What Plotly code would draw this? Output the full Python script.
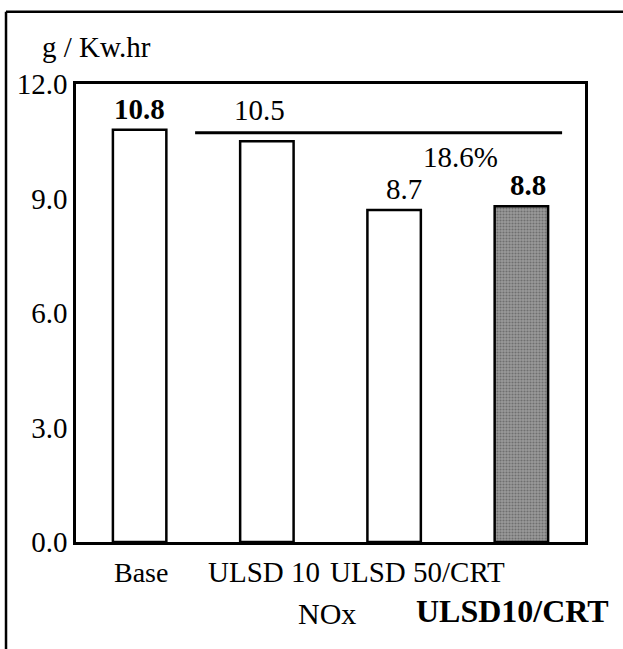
import plotly.graph_objects as go

# Data
categories = ["Base", "ULSD 10", "ULSD 50/CRT", "ULSD10/CRT"]
values = [10.8, 10.5, 8.7, 8.8]
bold_labels = [True, False, False, True]
y_ticks = [0, 3, 6, 9, 12]
y_tick_text = ["0.0", "3.0", "6.0", "9.0", "12.0"]
reduction_text = "18.6%"
y_title = "g / Kw.hr"
x_title = "NOx"

FONT = "Liberation Serif"

fill_colors = ["white", "white", "white", "#9a9a9a"]
pattern_shapes = ["", "", "", "."]

fig = go.Figure()
fig.add_trace(go.Bar(
    x=categories,
    y=values,
    width=0.42,
    marker=dict(
        color=fill_colors,
        line=dict(color="black", width=2.5),
        pattern=dict(shape=pattern_shapes, fgcolor="#444444", bgcolor="#d8d8d8",
                     size=3, solidity=0.4),
    ),
    hoverinfo="x+y",
))

annotations = []
# value labels
label_xshift = [0, -7, 10, 7]
label_yshift = [3, 13, 3, 3]
for i, (c, v) in enumerate(zip(categories, values)):
    txt = f"{v:.1f}"
    if bold_labels[i]:
        txt = f"<b>{txt}</b>"
    annotations.append(dict(
        x=c, y=v, xref="x", yref="y", text=txt, showarrow=False,
        yanchor="bottom", xanchor="center",
        xshift=label_xshift[i], yshift=label_yshift[i],
        font=dict(family=FONT, size=29, color="black"),
    ))

# category labels (custom placement)
cat_xshift = [1, -3, 23, -9]
cat_yshift = [-30, -30, -30, -69]
cat_sizes = [28, 29, 29, 32]
for i, c in enumerate(categories):
    txt = f"<b>{c}</b>" if i == 3 else c
    annotations.append(dict(
        x=c, y=0, xref="x", yref="y", text=txt, showarrow=False,
        yanchor="middle", xanchor="center",
        xshift=cat_xshift[i], yshift=cat_yshift[i],
        font=dict(family=FONT, size=cat_sizes[i], color="black"),
    ))

# x title
annotations.append(dict(
    x=0.493, y=0, xref="paper", yref="y", text=x_title, showarrow=False,
    yanchor="middle", xanchor="center", yshift=-71,
    font=dict(family=FONT, size=30, color="black"),
))
# y title
annotations.append(dict(
    x=0.041, y=1.081, xref="paper", yref="paper", text=y_title, showarrow=False,
    yanchor="middle", xanchor="center",
    font=dict(family=FONT, size=29, color="black"),
))
# reduction text
annotations.append(dict(
    x=0.755, y=1.0, xref="paper", yref="paper", text=reduction_text, showarrow=False,
    yanchor="middle", xanchor="center", yshift=-73,
    font=dict(family=FONT, size=29, color="black"),
))

shapes = [
    # bracket line over improved fuels
    dict(type="line", xref="paper", yref="y", x0=0.234, x1=0.955, y0=10.72, y1=10.72,
         line=dict(color="black", width=3)),
    # outer frame (left and top)
    dict(type="line", xref="paper", yref="paper", x0=-0.1375, x1=-0.1375, y0=-0.24, y1=1.158,
         line=dict(color="black", width=2.5)),
    dict(type="line", xref="paper", yref="paper", x0=-0.1375, x1=1.08, y0=1.158, y1=1.158,
         line=dict(color="black", width=2.5)),
]

fig.update_layout(
    width=623, height=649,
    margin=dict(l=76, r=38, t=84, b=107),
    paper_bgcolor="white", plot_bgcolor="white",
    showlegend=False,
    annotations=annotations,
    shapes=shapes,
    font=dict(family=FONT, size=28, color="black"),
)
fig.update_xaxes(
    range=[-0.5, 3.5], autorange=False,
    showticklabels=False, ticks="", showgrid=False,
    showline=True, mirror=True, linecolor="black", linewidth=2.5,
)
fig.update_yaxes(
    range=[0, 12], autorange=False, tickvals=y_ticks, ticktext=y_tick_text, ticks="",
    showgrid=False, zeroline=False,
    showline=True, mirror=True, linecolor="black", linewidth=2.5,
    tickfont=dict(family=FONT, size=29, color="black"),
)

fig.write_html(
    "out.html",
    config={"displayModeBar": False},
    post_script="document.body.style.margin='0';document.body.style.padding='0';document.body.style.overflow='hidden';",
)
